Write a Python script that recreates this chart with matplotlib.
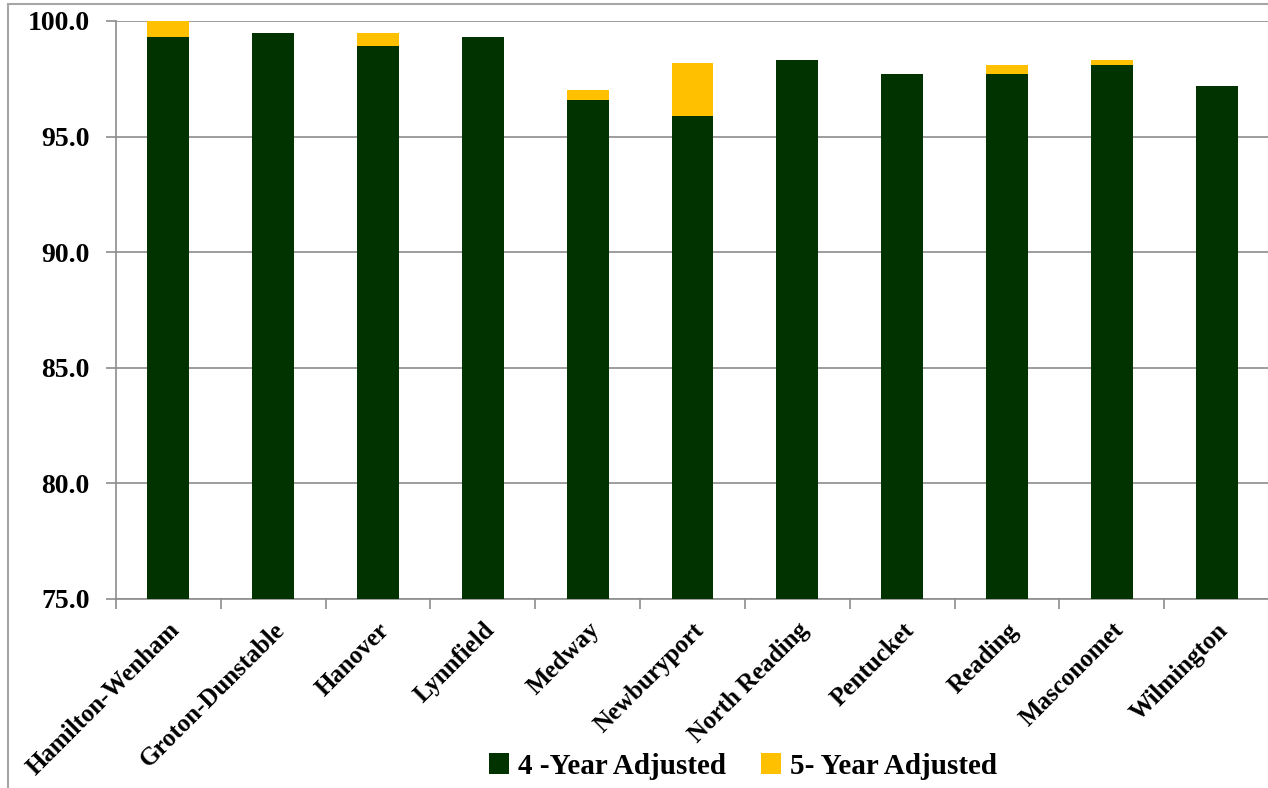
import matplotlib.pyplot as plt
from matplotlib.patches import Rectangle

districts = ["Hamilton-Wenham", "Groton-Dunstable", "Hanover", "Lynnfield", "Medway",
             "Newburyport", "North Reading", "Pentucket", "Reading", "Masconomet",
             "Wilmington"]
four_year = [99.3, 99.5, 98.9, 99.3, 96.6, 95.9, 98.3, 97.7, 97.7, 98.1, 97.2]
five_year_extra = [0.7, 0.0, 0.6, 0.0, 0.4, 2.3, 0.0, 0.0, 0.4, 0.2, 0.0]

green = "#003300"
yellow = "#FFC000"
grid_gray = "#8c8c8c"

plt.rcParams["font.family"] = ["Liberation Serif", "DejaVu Serif"]
plt.rcParams["font.weight"] = "bold"

fig = plt.figure(figsize=(12.68, 7.88), dpi=100)
ax = fig.add_axes([116 / 1268, 1 - 599 / 788, 1153 / 1268, 578 / 788])

x = range(len(districts))
ax.bar(x, [v - 75 for v in four_year], bottom=75, width=0.4, color=green,
       label="4 -Year Adjusted", zorder=3)
ax.bar(x, five_year_extra, bottom=four_year, width=0.4, color=yellow,
       label="5- Year Adjusted", zorder=3)

ax.set_ylim(75, 100)
ax.set_xlim(-0.5, len(districts) - 0.5)
ax.set_yticks([75, 80, 85, 90, 95, 100])
ax.set_yticklabels([f"{v:.1f}" for v in [75, 80, 85, 90, 95, 100]],
                   fontsize=20, fontweight="bold")
ax.yaxis.grid(True, color=grid_gray, linewidth=1.2, zorder=0)

ax.set_xticks([i - 0.5 for i in range(len(districts) + 1)], minor=False)
ax.set_xticklabels([])
ax.set_xticks(list(x), minor=True)
ax.set_xticklabels(districts, minor=True, rotation=45, ha="right",
                   rotation_mode="anchor", fontsize=18, fontweight="bold")
ax.tick_params(axis="x", which="minor", length=0, pad=14)
ax.tick_params(axis="x", which="major", length=7, color=grid_gray, width=1.2)
ax.tick_params(axis="y", length=7, color=grid_gray, width=1.2, pad=12)

for side in ["top", "right"]:
    ax.spines[side].set_visible(False)
for side in ["left", "bottom"]:
    ax.spines[side].set_color(grid_gray)
    ax.spines[side].set_linewidth(1.2)

ax.legend(loc="center", bbox_to_anchor=(743 / 1268, 1 - 766 / 788),
          bbox_transform=fig.transFigure, ncol=2, frameon=False,
          prop={"size": 21, "weight": "bold"}, handlelength=0.7,
          handleheight=0.7, handletextpad=0.3, columnspacing=1.2)

# chart area border (only top and left edges are visible)
fig.patches.append(Rectangle((8 / 1268, -0.1), 1.2, 1 - 4 / 788 + 0.1,
                             transform=fig.transFigure, fill=False,
                             edgecolor="#a6a6a6", linewidth=1.5))

fig.savefig("out.png", dpi=100)
